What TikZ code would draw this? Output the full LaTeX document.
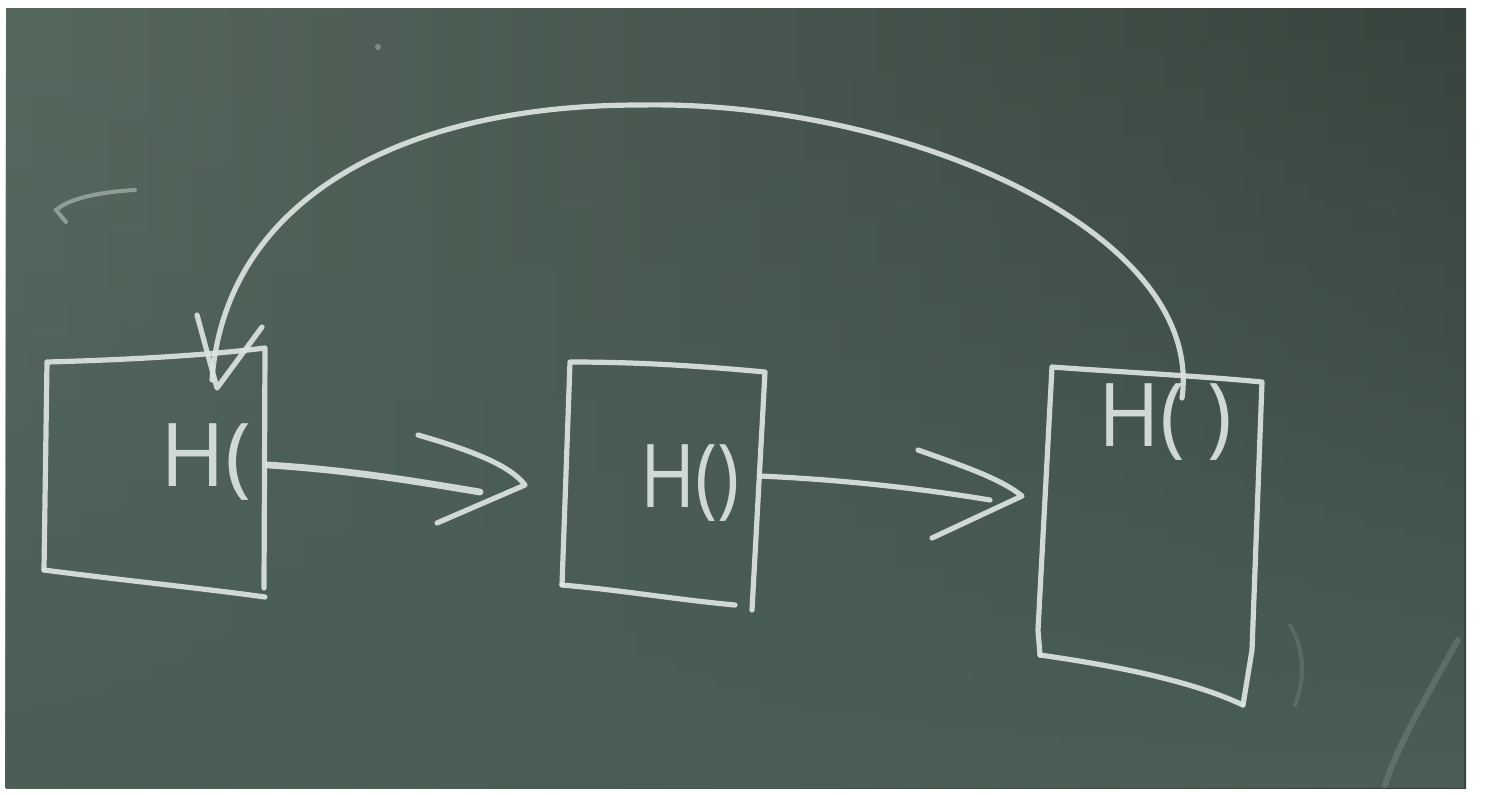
\documentclass[tikz,border=0pt]{standalone}
\usepackage{fontspec}
\setsansfont{Open Sans}
\usetikzlibrary{fadings}

\definecolor{boardl}{HTML}{57685F}
\definecolor{boardr}{HTML}{37443D}
\definecolor{boardb}{HTML}{4A5E56}
\definecolor{chalkc}{HTML}{DCE4E0}

\tikzset{
  chalk/.style={draw=chalkc, line width=2.6pt, line cap=round, line join=round, opacity=0.92},
  faint/.style={draw=chalkc, line width=2pt, line cap=round},
  hlabel/.style={text=chalkc, font=\sffamily\fontsize{44}{44}\selectfont, inner sep=0pt, opacity=0.92}
}

\begin{document}
\begin{tikzpicture}[x=0.5pt, y=-0.5pt]

\useasboundingbox (0,0) rectangle (1492,794);
\fill[white] (0,0) rectangle (1492,794);

% board
\shade[left color=boardl, right color=boardr] (6,8) rectangle (1466,788);
\fill[boardb, path fading=north] (6,8) rectangle (1466,788);

\coordinate (b1tl) at (47,362);
\coordinate (b1tr) at (265,348);
\coordinate (b1br) at (264,588);
\coordinate (b1bl) at (44,570);

\coordinate (b2tl) at (570,362);
\coordinate (b2tr) at (765,372);
\coordinate (b2br) at (752,610);
\coordinate (b2bl) at (562,585);

\coordinate (b3tl) at (1052,367);
\coordinate (b3tr) at (1262,382);
\coordinate (b3br) at (1243,705);
\coordinate (b3bl) at (1040,655);

% boxes
\draw[chalk] (b1bl) -- (b1tl) .. controls (120,360) and (200,356) .. (b1tr) -- (b1br);
\draw[chalk] (b1bl) .. controls (120,580) and (200,588) .. (265,597);

\draw[chalk] (b2bl) -- (b2tl) .. controls (640,362) and (700,366) .. (b2tr) -- (b2br);
\draw[chalk] (b2bl) .. controls (620,590) and (680,600) .. (735,605);

\draw[chalk] (b3bl) -- (1038,630) -- (b3tl) .. controls (1120,372) and (1200,376) .. (b3tr) -- (1252,650) -- (b3br);
\draw[chalk] (b3bl) .. controls (1110,665) and (1190,680) .. (b3br);

% labels
\node[hlabel, anchor=west] (lab1) at (160,462) {H(};
\node[hlabel, anchor=west, xscale=0.85] (lab2) at (640,483) {H()};
\node[hlabel, anchor=west, xscale=0.95] (lab3) at (1098,422) {H(\hspace{12pt})};

% arrows between boxes
\coordinate (a1s) at (268,465);
\coordinate (a1e) at (480,492);
\coordinate (a1t) at (525,485);
\draw[chalk, line width=3.4pt] (a1s) .. controls (350,470) and (420,482) .. (a1e);
\draw[chalk] (418,435) .. controls (470,450) and (510,465) .. (a1t) -- (437,523);

\coordinate (a2s) at (760,476);
\coordinate (a2e) at (990,500);
\coordinate (a2t) at (1022,496);
\draw[chalk] (a2s) .. controls (850,480) and (930,490) .. (a2e);
\draw[chalk] (918,450) .. controls (960,465) and (1000,478) .. (a2t) -- (932,538);

% return arrow
\coordinate (rs) at (1182,398);
\coordinate (rm) at (640,105);
\coordinate (re) at (212,380);
\coordinate (rt) at (217,388);
\draw[chalk] (rs) .. controls (1205,230) and (900,100) .. (rm)
  .. controls (400,105) and (225,200) .. (re);
\draw[chalk] (197,315) -- (rt) -- (262,327);

% chalk marks
\draw[faint, opacity=0.45] (66,222) -- (56,210) .. controls (70,198) and (100,192) .. (135,190);
\fill[chalkc, opacity=0.35] (378,47) circle (3);
\draw[faint, opacity=0.15, line width=3pt] (1458,640) .. controls (1430,690) and (1400,740) .. (1385,785);
\draw[faint, opacity=0.12] (1290,625) .. controls (1305,650) and (1305,680) .. (1295,705);

\end{tikzpicture}
\end{document}
